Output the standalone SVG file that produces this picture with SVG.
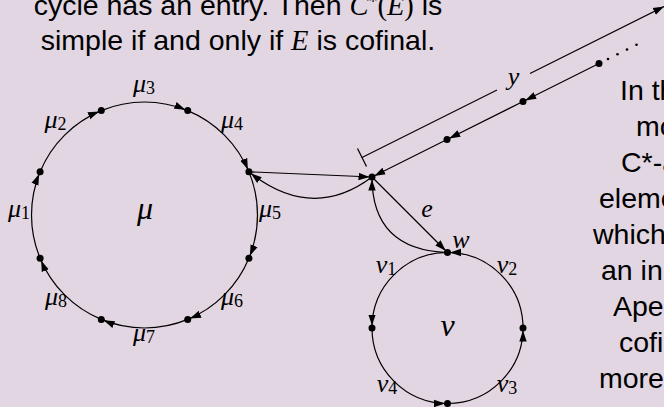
<svg xmlns="http://www.w3.org/2000/svg" width="664" height="407" viewBox="0 0 664 407">
<defs>
<style>
.bg{fill:#e2d6e2}
.txt{font-family:"Liberation Sans",Arial,sans-serif;font-size:28.5px;fill:#000}
.m{font-family:"Liberation Serif","Times New Roman",serif;font-style:italic}
.up{font-family:"Liberation Serif","Times New Roman",serif;font-style:normal}
.lbl{font-family:"Liberation Serif","Times New Roman",serif;font-style:italic;font-size:26px;text-anchor:middle;fill:#000}
.big{font-size:32px}
.sub{font-style:normal;font-size:18px}
.e{fill:none;stroke:#000;stroke-width:1.2}
.a{marker-end:url(#arr)}
.dot{fill:#000}
</style>
<marker id="arr" markerUnits="userSpaceOnUse" markerWidth="15" markerHeight="9" refX="13.5" refY="4.5" orient="auto">
<path d="M0,0.8 L11,4.5 L0,8.2 z" fill="#000"/>
</marker>
<marker id="tip" markerUnits="userSpaceOnUse" markerWidth="12" markerHeight="9" refX="11" refY="4.5" orient="auto">
<path d="M0,0.8 L11,4.5 L0,8.2 z" fill="#000"/>
</marker>
</defs>
<rect class="bg" x="0" y="0" width="664" height="407"/>

<g id="caption-top">
<text class="txt" x="238" y="14.5" text-anchor="middle">cycle has an entry.  Then <tspan class="m">C</tspan><tspan class="up" font-size="18" dy="-7">*</tspan><tspan class="up" dy="7">(</tspan><tspan class="m">E</tspan><tspan class="up">)</tspan> is</text>
<text class="txt" x="238" y="49.5" text-anchor="middle">simple if and only if <tspan class="m">E</tspan> is cofinal.</text>
</g>

<g id="caption-right">
<text class="txt" x="620" y="100">In th</text>
<text class="txt" x="636" y="136">mo</text>
<text class="txt" x="621" y="172">C*-a</text>
<text class="txt" x="599" y="208">eleme</text>
<text class="txt" x="593" y="244">which</text>
<text class="txt" x="601" y="280">an ini</text>
<text class="txt" x="613" y="316">Aper</text>
<text class="txt" x="619" y="352">cofi</text>
<text class="txt" x="599" y="388">more</text>
</g>

<g id="connectors">
<path class="e a" d="M40.1,258.2 A113,113 0 0 1 40.1,171.8"/>
<path class="e a" d="M40.1,171.8 A113,113 0 0 1 101.3,110.6"/>
<path class="e a" d="M101.3,110.6 A113,113 0 0 1 187.7,110.6"/>
<path class="e a" d="M187.7,110.6 A113,113 0 0 1 248.9,171.8"/>
<path class="e a" d="M248.9,171.8 A113,113 0 0 1 248.9,258.2"/>
<path class="e a" d="M248.9,258.2 A113,113 0 0 1 187.7,319.4"/>
<path class="e a" d="M187.7,319.4 A113,113 0 0 1 101.3,319.4"/>
<path class="e a" d="M101.3,319.4 A113,113 0 0 1 40.1,258.2"/>

<path class="e a" d="M447.5,252.5 A75.5,75.5 0 0 0 372,328"/>
<path class="e a" d="M372,328 A75.5,75.5 0 0 0 447.5,403.5"/>
<path class="e a" d="M447.5,403.5 A75.5,75.5 0 0 0 523,328"/>
<path class="e a" d="M523,328 A75.5,75.5 0 0 0 447.5,252.5"/>

<path class="e a" d="M248.9,171.8 L372,177"/>
<path class="e a" d="M372,177 Q312,222 248.9,171.8"/>
<path class="e a" d="M372,177 L447.5,252.5"/>
<path class="e a" d="M447.5,252.5 Q372,250 372,177"/>
<path class="e a" d="M599,63.5 L523,101.5"/>
<path class="e a" d="M523,101.5 L447,139.5"/>
<path class="e a" d="M447,139.5 L372,177"/>

<path class="e" d="M357.5,148.5 L366.5,166.5"/>
<path class="e" d="M362,157.5 L497,90"/>
<path class="e" d="M530,73.5 L664,6.5" marker-end="url(#tip)"/>
<circle class="dot" cx="608" cy="59" r="1.3"/>
<circle class="dot" cx="617.5" cy="54.2" r="1.3"/>
<circle class="dot" cx="627" cy="49.5" r="1.3"/>
<circle class="dot" cx="636.5" cy="44.7" r="1.3"/>
</g>

<g id="edge-labels">
<text class="lbl" x="19" y="217">μ<tspan class="sub" dy="2">1</tspan></text>
<text class="lbl" x="55.5" y="128">μ<tspan class="sub" dy="2">2</tspan></text>
<text class="lbl" x="144" y="92">μ<tspan class="sub" dy="2">3</tspan></text>
<text class="lbl" x="232" y="128">μ<tspan class="sub" dy="2">4</tspan></text>
<text class="lbl" x="270" y="217">μ<tspan class="sub" dy="2">5</tspan></text>
<text class="lbl" x="232" y="305">μ<tspan class="sub" dy="2">6</tspan></text>
<text class="lbl" x="144" y="341">μ<tspan class="sub" dy="2">7</tspan></text>
<text class="lbl" x="56" y="305">μ<tspan class="sub" dy="2">8</tspan></text>
<text class="lbl big" x="145" y="219">μ</text>
<text class="lbl" x="386" y="273">ν<tspan class="sub" dy="2">1</tspan></text>
<text class="lbl" x="507" y="273">ν<tspan class="sub" dy="2">2</tspan></text>
<text class="lbl" x="507" y="392">ν<tspan class="sub" dy="2">3</tspan></text>
<text class="lbl" x="387" y="392">ν<tspan class="sub" dy="2">4</tspan></text>
<text class="lbl big" x="447.5" y="336">ν</text>
<text class="lbl" x="461" y="248">w</text>
<text class="lbl" x="427" y="217">e</text>
<text class="lbl" x="513.5" y="85">y</text>
</g>

<g id="node-m1"><circle class="dot" cx="40.1" cy="171.8" r="3.5"/></g>
<g id="node-m2"><circle class="dot" cx="101.3" cy="110.6" r="3.5"/></g>
<g id="node-m3"><circle class="dot" cx="187.7" cy="110.6" r="3.5"/></g>
<g id="node-m4"><circle class="dot" cx="248.9" cy="171.8" r="3.5"/></g>
<g id="node-m5"><circle class="dot" cx="248.9" cy="258.2" r="3.5"/></g>
<g id="node-m6"><circle class="dot" cx="187.7" cy="319.4" r="3.5"/></g>
<g id="node-m7"><circle class="dot" cx="101.3" cy="319.4" r="3.5"/></g>
<g id="node-m8"><circle class="dot" cx="40.1" cy="258.2" r="3.5"/></g>
<g id="node-v"><circle class="dot" cx="372" cy="177" r="3.5"/></g>
<g id="node-w"><circle class="dot" cx="447.5" cy="252.5" r="3.5"/></g>
<g id="node-n2"><circle class="dot" cx="372" cy="328" r="3.5"/></g>
<g id="node-n3"><circle class="dot" cx="447.5" cy="403.5" r="3.5"/></g>
<g id="node-n4"><circle class="dot" cx="523" cy="328" r="3.5"/></g>
<g id="node-r1"><circle class="dot" cx="447" cy="139.5" r="3.5"/></g>
<g id="node-r2"><circle class="dot" cx="523" cy="101.5" r="3.5"/></g>
<g id="node-r3"><circle class="dot" cx="599" cy="63.5" r="3.5"/></g>
</svg>
